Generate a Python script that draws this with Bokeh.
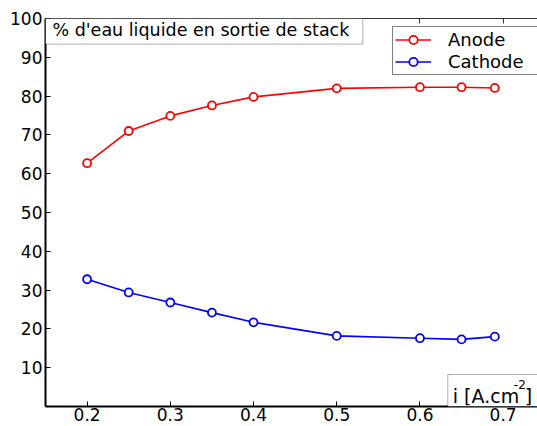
from bokeh.plotting import figure
from bokeh.models import (FixedTicker, LinearAxis, Legend, LegendItem,
                          BoxAnnotation, Label, Range1d)
from bokeh.embed import file_html
from bokeh.resources import INLINE

# Current density [A/cm2] and share of liquid water leaving the stack [%]
current_density = [0.2, 0.25, 0.3, 0.35, 0.4, 0.5, 0.6, 0.65, 0.69]
anode_liquid = [62.7, 71.0, 74.9, 77.6, 79.8, 82.0, 82.3, 82.3, 82.1]
cathode_liquid = [32.8, 29.4, 26.8, 24.2, 21.7, 18.2, 17.6, 17.3, 18.0]

x_ticks = [0.2, 0.3, 0.4, 0.5, 0.6, 0.7]
x_tick_labels = ["0.2", "0.3", "0.4", "0.5", "0.6", "0.7"]
y_ticks = [10, 20, 30, 40, 50, 60, 70, 80, 90, 100]
y_tick_labels = [str(v) for v in y_ticks]

title_text = "% d'eau liquide en sortie de stack"
xlabel_text = "i [A.cm"
xlabel_sup = "-2"
xlabel_end = "]"

FONT = "DejaVu Sans"

p = figure(width=537, height=426, output_backend="svg", toolbar_location=None,
           x_range=Range1d(0.15, 0.7413), y_range=Range1d(0, 100),
           min_border_left=45, min_border_right=0, min_border_top=18,
           min_border_bottom=20, x_axis_location=None, y_axis_location=None)
p.outline_line_color = None
p.xgrid.visible = False
p.ygrid.visible = False
p.background_fill_color = "white"
p.border_fill_color = "white"

# bottom axis
xb = LinearAxis(ticker=FixedTicker(ticks=x_ticks),
                major_label_overrides=dict(zip(x_ticks, x_tick_labels)))
xb.axis_line_width = 2
xb.axis_line_color = "black"
xb.major_tick_in = 5
xb.major_tick_out = 0
xb.minor_tick_line_color = None
xb.major_label_standoff = 1
xb.major_label_text_font = FONT
xb.major_label_text_font_size = "17px"
xb.major_label_text_color = "black"
p.add_layout(xb, "below")

# left axis
yl = LinearAxis(ticker=FixedTicker(ticks=y_ticks),
                major_label_overrides=dict(zip(y_ticks, y_tick_labels)))
yl.axis_line_width = 2
yl.axis_line_color = "black"
yl.major_tick_in = 5
yl.major_tick_out = 0
yl.minor_tick_line_color = None
yl.major_label_standoff = 3
yl.major_label_text_font = FONT
yl.major_label_text_font_size = "17px"
yl.major_label_text_color = "black"
p.add_layout(yl, "left")

# top edge with inward ticks, labels not painted
xt = LinearAxis(ticker=FixedTicker(ticks=x_ticks))
xt.axis_line_width = 1
xt.axis_line_color = "#333333"
xt.major_tick_line_color = "#333333"
xt.major_tick_in = 5
xt.major_tick_out = 0
xt.minor_tick_line_color = None
xt.major_label_text_color = None
xt.major_label_standoff = 0
p.add_layout(xt, "above")

# series
la = p.line(current_density, anode_liquid, line_color="#ff0000", line_width=1.6)
sa = p.scatter(current_density, anode_liquid, marker="circle", size=8,
               line_color="#ff0000", line_width=1.8, fill_color="white")
lc = p.line(current_density, cathode_liquid, line_color="#0000ff", line_width=1.6)
sc = p.scatter(current_density, cathode_liquid, marker="circle", size=8,
               line_color="#0000ff", line_width=1.8, fill_color="white")

legend = Legend(items=[LegendItem(label="Anode", renderers=[la, sa]),
                       LegendItem(label="Cathode", renderers=[lc, sc])],
                location=(347, 331))
legend.label_text_font = FONT
legend.label_text_font_size = "18px"
legend.label_text_color = "black"
legend.glyph_width = 36
legend.glyph_height = 21
legend.label_height = 21
legend.label_width = 100
legend.label_standoff = 17
legend.padding = 2
legend.spacing = 1
legend.margin = 0
legend.border_line_color = "black"
legend.border_line_width = 1.2
legend.background_fill_color = "white"
legend.background_fill_alpha = 1
p.add_layout(legend)

# title box in the upper left corner
title_box = BoxAnnotation(left=0.15, right=0.5314, top=100, bottom=93.4,
                          fill_color="white", fill_alpha=1,
                          line_color="black", line_width=1)
p.add_layout(title_box)
p.add_layout(Label(x=0.15, y=100, x_offset=7, y_offset=-1, text=title_text,
                   text_baseline="top", text_align="left",
                   text_font=FONT, text_font_size="17.5px", text_color="black"))

# axis label box in the lower right corner
xlabel_box = BoxAnnotation(left=0.6335, right=0.80, top=8.25, bottom=0,
                           fill_color="white", fill_alpha=1,
                           line_color="black", line_width=1)
p.add_layout(xlabel_box)
p.add_layout(Label(x=0.6335, y=0, x_offset=5, y_offset=11, text=xlabel_text,
                   text_baseline="alphabetic", text_align="left",
                   text_font=FONT, text_font_size="19px", text_color="black"))
p.add_layout(Label(x=0.6335, y=0, x_offset=66, y_offset=22, text=xlabel_sup,
                   text_baseline="alphabetic", text_align="left",
                   text_font=FONT, text_font_size="12px", text_color="black"))
p.add_layout(Label(x=0.6335, y=0, x_offset=77, y_offset=11, text=xlabel_end,
                   text_baseline="alphabetic", text_align="left",
                   text_font=FONT, text_font_size="19px", text_color="black"))

open("out.html", "w").write(file_html(p, INLINE))
